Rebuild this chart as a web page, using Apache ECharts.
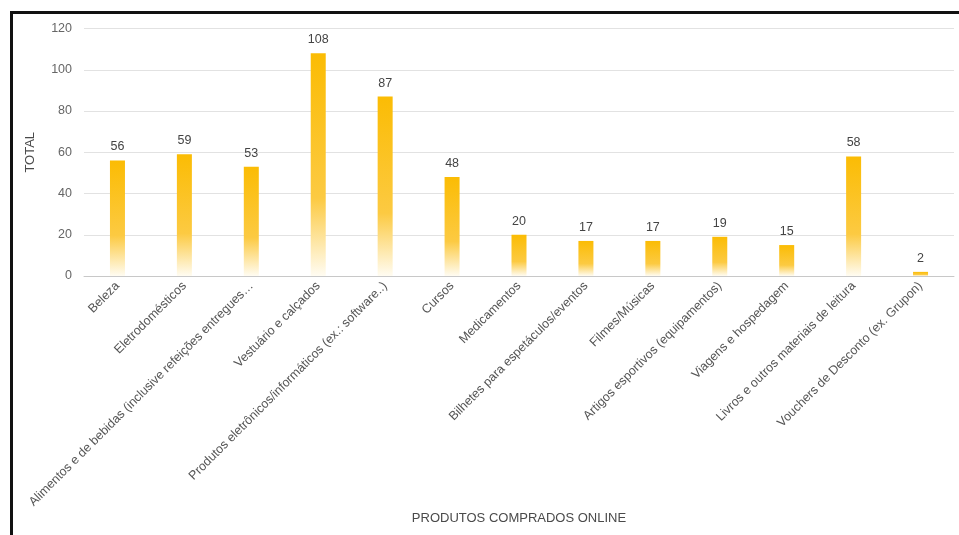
<!DOCTYPE html>
<html>
<head>
<meta charset="utf-8">
<script src="https://cdn.jsdelivr.net/npm/echarts@6/dist/echarts.min.js"></script>
<style>
html,body{margin:0;padding:0;background:#fff;}
#chart{position:absolute;left:0;top:0;width:959px;height:535px;}
#frame{position:absolute;left:10px;top:11px;width:960px;height:540px;border-left:3px solid #111;border-top:3px solid #111;pointer-events:none;}
</style>
</head>
<body>
<div id="chart"></div>
<div id="frame"></div>
<script>
const categories = [
  'Beleza',
  'Eletrodomésticos',
  'Alimentos e de bebidas (inclusive refeições entregues…',
  'Vestuário e calçados',
  'Produtos eletrônicos/informáticos (ex.: software..)',
  'Cursos',
  'Medicamentos',
  'Bilhetes para espetáculos/eventos',
  'Filmes/Músicas',
  'Artigos esportivos (equipamentos)',
  'Viagens e hospedagem',
  'Livros e outros materiais de leitura',
  'Vouchers de Desconto (ex. Grupon)'
];
const totals = [56, 59, 53, 108, 87, 48, 20, 17, 17, 19, 15, 58, 2];
const yTicks = [0, 20, 40, 60, 80, 100, 120];

const chart = echarts.init(document.getElementById('chart'));
chart.setOption({
  animation: false,
  grid: {left: 84, right: 5, top: 28.5, bottom: 259, containLabel: false},
  xAxis: {
    type: 'category',
    data: categories,
    name: 'PRODUTOS COMPRADOS ONLINE',
    nameLocation: 'middle',
    nameGap: 229,
    nameTextStyle: {color: '#4a4a4a', fontSize: 13, fontFamily: 'Liberation Sans'},
    axisLine: {lineStyle: {color: '#c8c8c8', width: 1}},
    axisTick: {show: false},
    axisLabel: {rotate: 45, interval: 0, color: '#555', fontSize: 12.5, fontFamily: 'Liberation Sans', margin: 8}
  },
  yAxis: {
    type: 'value',
    min: yTicks[0],
    max: yTicks[yTicks.length - 1],
    interval: 20,
    name: 'TOTAL',
    nameLocation: 'middle',
    nameGap: 47,
    nameRotate: 90,
    nameTextStyle: {color: '#4a4a4a', fontSize: 13, fontFamily: 'Liberation Sans'},
    axisLine: {show: false},
    axisTick: {show: false},
    axisLabel: {color: '#666', fontSize: 12.5, fontFamily: 'Liberation Sans', margin: 12},
    splitLine: {lineStyle: {color: '#e2e2e2', width: 1}}
  },
  series: [{
    type: 'bar',
    data: totals,
    barWidth: 15,
    itemStyle: {
      color: new echarts.graphic.LinearGradient(0, 0, 0, 1, [
        {offset: 0, color: '#FBBC04'},
        {offset: 0.65, color: '#FCCA42'},
        {offset: 1, color: '#FFFCF2'}
      ])
    },
    label: {show: true, position: 'top', distance: 7, color: '#444', fontSize: 12.5, fontFamily: 'Liberation Sans'}
  }]
});
</script>
</body>
</html>
